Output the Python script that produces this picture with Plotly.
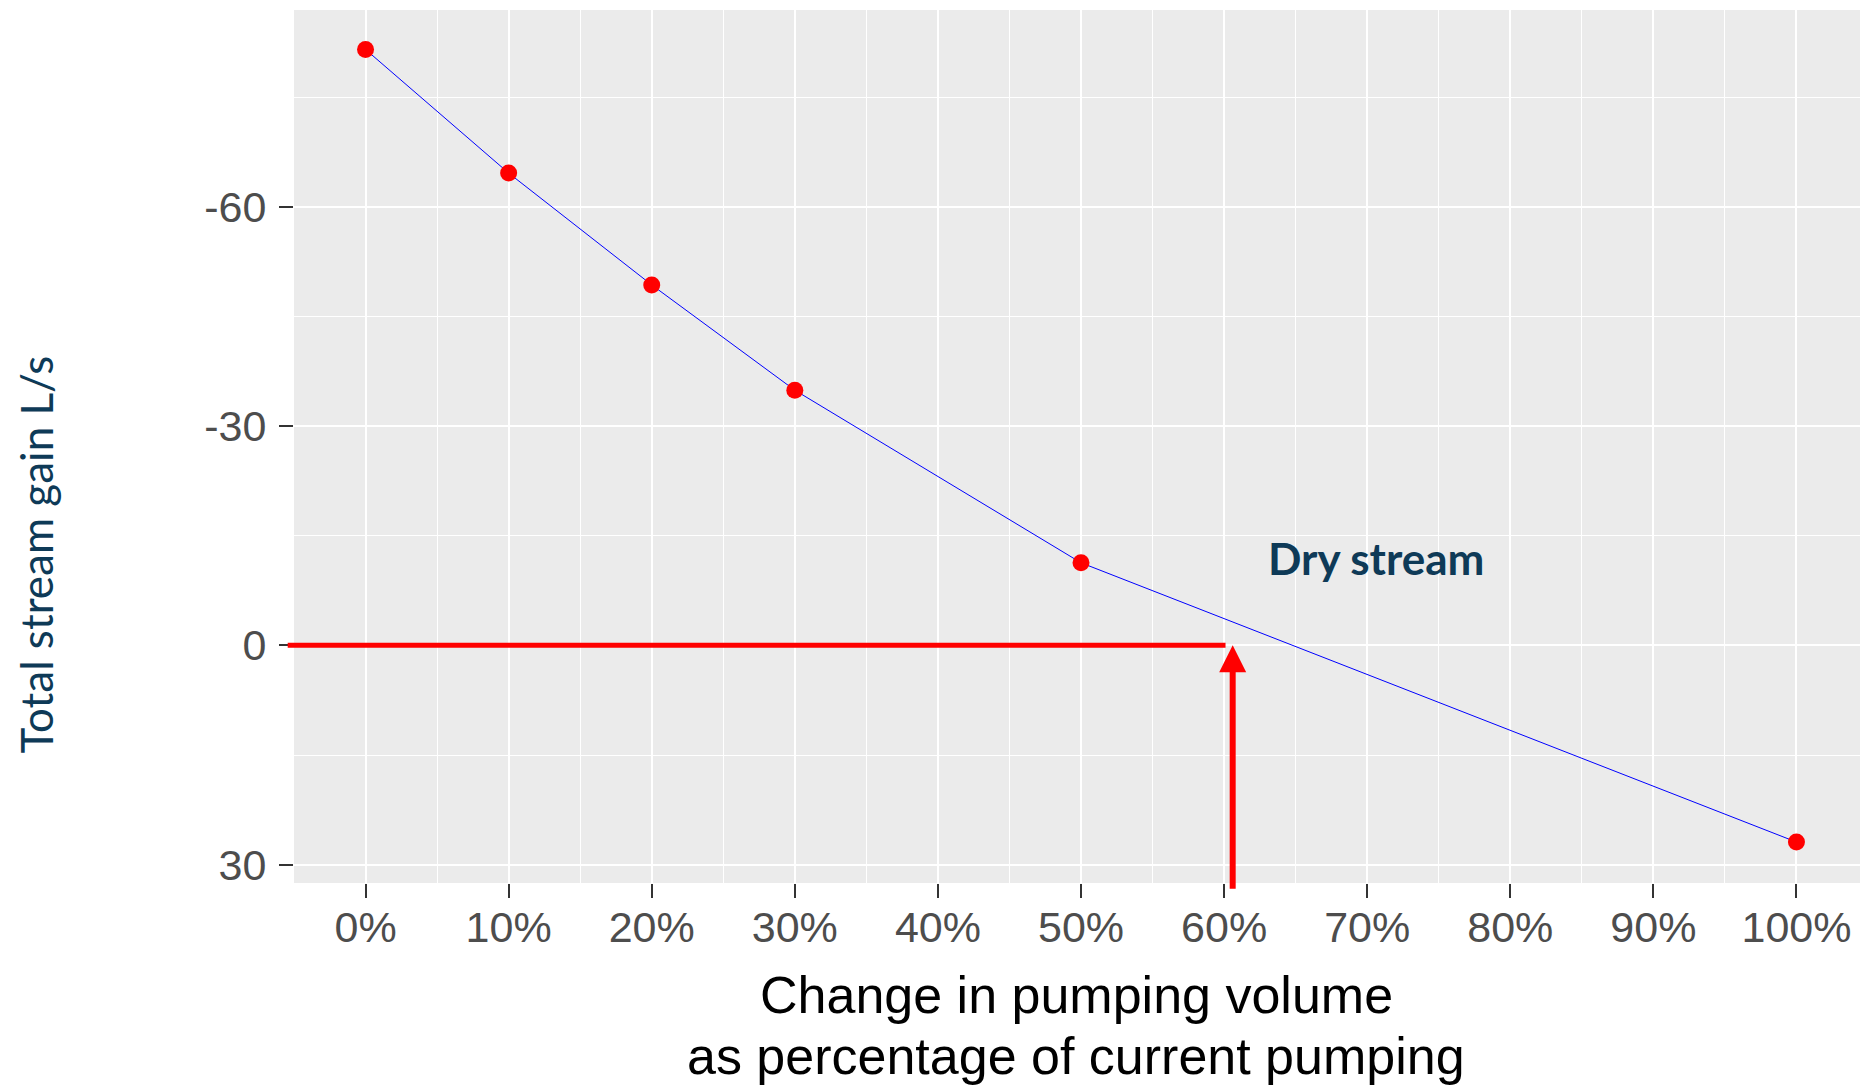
import plotly.graph_objects as go

# change in pumping volume (%) and total stream gain (L/s)
pumping_pct = [0, 10, 20, 30, 50, 100]
stream_gain = [-81.5, -64.6, -49.3, -34.9, -11.3, 26.9]

x_ticks = [0, 10, 20, 30, 40, 50, 60, 70, 80, 90, 100]
x_tick_labels = [f"{v}%" for v in x_ticks]
y_ticks = [-60, -30, 0, 30]
y_tick_labels = ["-60", "-30", "0", "30"]
x_title_lines = ["Change in pumping volume", "as percentage of current pumping"]

# dry-stream marker: pumping level where gain reaches zero
dry_pct = 60.6
dry_gain = 0
x_lo, x_hi = -5, 105
y_lo, y_hi = -86.9, 32.5

fig = go.Figure()
fig.add_trace(go.Scatter(
    x=pumping_pct, y=stream_gain, mode='lines+markers',
    line=dict(color='#0000ff', width=1),
    marker=dict(color='#ff0000', size=17),
    showlegend=False,
))

# red horizontal line at zero gain, from just left of the panel to the dry-stream point
fig.add_shape(type='line', xref='x domain', yref='y',
              x0=-0.004, x1=(dry_pct - 0.5 - x_lo) / (x_hi - x_lo),
              y0=dry_gain, y1=dry_gain,
              line=dict(color='#ff0000', width=5), layer='above')

# vertical arrow up from below the x axis
fig.add_annotation(x=dry_pct, y=dry_gain, ax=dry_pct, ay=y_hi + 1.0,
                   xref='x', yref='y', axref='x', ayref='y',
                   text='', showarrow=True, arrowhead=2, arrowsize=0.9,
                   arrowwidth=6, arrowcolor='#ff0000')

fig.add_annotation(x=70.6, y=-12.0, xref='x', yref='y', text='<b>Dry stream</b>',
                   showarrow=False, font=dict(family='Lato', size=44, color='#0e3a57'))

# y title placed a bit below the panel centre, as in the original
fig.add_annotation(x=-0.164, y=0.376, xref='paper', yref='paper',
                   xanchor='center', yanchor='middle',
                   text='Total stream gain L/s', textangle=-90, showarrow=False,
                   font=dict(family='Lato', size=44, color='#0e3a57'))

# x title, two lines set closer together than plotly's default line height
for line_text, y_pos in zip(x_title_lines, [-0.128, -0.198]):
    fig.add_annotation(x=0.497, y=y_pos, xref='paper', yref='paper',
                       xanchor='center', yanchor='middle',
                       text=line_text, showarrow=False,
                       font=dict(size=52, color='black'))

# page body adds an 8px margin, so the figure is shifted to line up with the window
fig.update_layout(
    width=1860, height=1077,
    margin=dict(l=286, r=0, t=2, b=202),
    paper_bgcolor='white',
    plot_bgcolor='#ebebeb',
    font=dict(family='Liberation Sans'),
)

fig.update_xaxes(
    range=[x_lo, x_hi], tickvals=x_ticks, ticktext=x_tick_labels,
    showgrid=True, gridcolor='white', gridwidth=2,
    minor=dict(dtick=10, tick0=5, showgrid=True, gridcolor='white', gridwidth=1),
    ticks='outside', ticklen=14, tickwidth=2, tickcolor='#333333',
    tickfont=dict(size=43, color='#4d4d4d'), ticklabelstandoff=-8,
    zeroline=False, showline=False, automargin=False,
)

fig.update_yaxes(
    range=[y_hi, y_lo], tickvals=y_ticks, ticktext=y_tick_labels,
    showgrid=True, gridcolor='white', gridwidth=2,
    minor=dict(dtick=30, tick0=-75, showgrid=True, gridcolor='white', gridwidth=1),
    ticks='outside', ticklen=14, tickwidth=2, tickcolor='#333333',
    tickfont=dict(size=43, color='#4d4d4d'), ticklabelstandoff=4,
    zeroline=False, showline=False, automargin=False,
)

fig.write_html("out.html")
